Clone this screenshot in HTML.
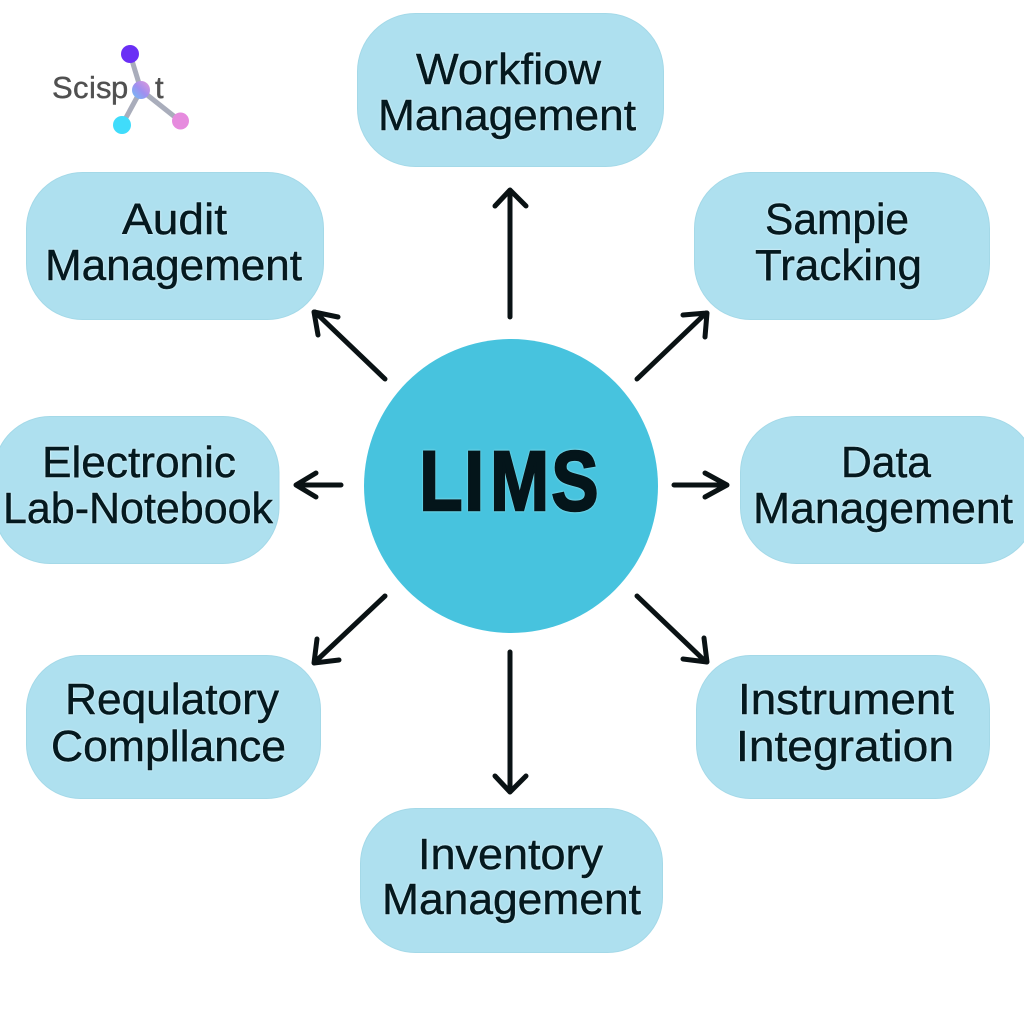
<!DOCTYPE html>
<html lang="en">
<head>
<meta charset="utf-8">
<title>LIMS</title>
<style>
html,body{margin:0;padding:0;background:#fff;width:1024px;height:1024px;overflow:hidden}
svg{display:block}
.n{fill:#aee0ef;stroke:#a4d9e8;stroke-width:1}
.t{font-family:"Liberation Sans",sans-serif;font-size:44px;fill:#04191f;stroke:#04191f;stroke-width:.45px;stroke-linejoin:round;filter:drop-shadow(0 0 1px #f2fcfe)}
.a{fill:none;stroke:#0a1214;stroke-width:5;stroke-linecap:round;stroke-linejoin:round}
</style>
</head>
<body>
<svg width="1024" height="1024" viewBox="0 0 1024 1024" xmlns="http://www.w3.org/2000/svg">
<defs>
<linearGradient id="g" x1="0" y1="1" x2="1" y2="0">
<stop offset="0" stop-color="#6fc0f5"/>
<stop offset="0.5" stop-color="#a08ff0"/>
<stop offset="1" stop-color="#e49bd8"/>
</linearGradient>
</defs>
<rect width="1024" height="1024" fill="#fff"/>

<!-- Logo -->
<text x="52 73 89 96 111 132 155" y="98" font-family="'Liberation Sans',sans-serif" font-size="31" fill="#505050" stroke="#505050" stroke-width=".4">Scispot</text>
<g stroke="#a9adbb" stroke-width="5" fill="none">
<line x1="130" y1="54" x2="141" y2="90"/>
<line x1="141" y1="90" x2="122" y2="125"/>
<line x1="141" y1="90" x2="180" y2="121"/>
</g>
<circle cx="130" cy="54" r="9" fill="#6a2ff5"/>
<circle cx="141" cy="90" r="9" fill="url(#g)"/>
<circle cx="122" cy="125" r="9" fill="#40dcfb"/>
<circle cx="180.500" cy="121" r="8.500" fill="#e68bde"/>

<!-- Nodes -->
<rect class="n" x="357.500" y="13.500" width="306" height="153" rx="58"/>
<rect class="n" x="694.500" y="172.500" width="295" height="147" rx="56"/>
<rect class="n" x="26.500" y="172.500" width="297" height="147" rx="56"/>
<rect class="n" x="-6" y="416.500" width="285" height="147" rx="56"/>
<rect class="n" x="740.500" y="416.500" width="295" height="147" rx="56"/>
<rect class="n" x="26.500" y="655.500" width="294" height="143" rx="54"/>
<rect class="n" x="696.500" y="655.500" width="293" height="143" rx="54"/>
<rect class="n" x="360.500" y="808.500" width="302" height="144" rx="55"/>

<!-- Centre -->
<circle cx="511" cy="486" r="147" fill="#47c3de"/>
<text transform="translate(0,510) scale(.84,1)" x="499.200 552.800 583.700 656.400" y="0" font-family="'Liberation Sans',sans-serif" font-weight="700" font-size="84" fill="#04151a" stroke="#04151a" stroke-width="2.5" style="filter:drop-shadow(0 0 1px #a8eef6)">LIMS</text>

<!-- Labels -->
<text class="t" x="416" y="84" textLength="185" lengthAdjust="spacingAndGlyphs">Workfiow</text>
<text class="t" x="378" y="130" textLength="258" lengthAdjust="spacingAndGlyphs">Management</text>
<text class="t" x="122" y="234" textLength="105" lengthAdjust="spacingAndGlyphs">Audit</text>
<text class="t" x="45" y="280" textLength="257" lengthAdjust="spacingAndGlyphs">Management</text>
<text class="t" x="765" y="234" textLength="144" lengthAdjust="spacingAndGlyphs">Sampie</text>
<text class="t" x="755" y="280" textLength="167" lengthAdjust="spacingAndGlyphs">Tracking</text>
<text class="t" x="42" y="477" textLength="194" lengthAdjust="spacingAndGlyphs">Electronic</text>
<text class="t" x="3" y="523" textLength="270" lengthAdjust="spacingAndGlyphs">Lab-Notebook</text>
<text class="t" x="841" y="477" textLength="90" lengthAdjust="spacingAndGlyphs">Data</text>
<text class="t" x="753" y="523" textLength="260" lengthAdjust="spacingAndGlyphs">Management</text>
<text class="t" x="65" y="714" textLength="214" lengthAdjust="spacingAndGlyphs">Requlatory</text>
<text class="t" x="51" y="761" textLength="235" lengthAdjust="spacingAndGlyphs">Compllance</text>
<text class="t" x="738" y="714" textLength="216" lengthAdjust="spacingAndGlyphs">Instrument</text>
<text class="t" x="736" y="761" textLength="218" lengthAdjust="spacingAndGlyphs">Integration</text>
<text class="t" x="418" y="869" textLength="185" lengthAdjust="spacingAndGlyphs">Inventory</text>
<text class="t" x="382" y="914" textLength="259" lengthAdjust="spacingAndGlyphs">Management</text>

<!-- Arrows -->
<path class="a" d="M510 317V192M495 206L510 190L526 206"/>
<path class="a" d="M510 652V791M495 776L510 792L526 776"/>
<path class="a" d="M674 485H727M705 473L727 485L705 497"/>
<path class="a" d="M341 485H297M316 473L296 485L316 497"/>
<path class="a" d="M385 379L315 312M318 335L314 312L338 317"/>
<path class="a" d="M637 379L706 313M683 315L707 313L705 337"/>
<path class="a" d="M385 596L315 662M339 660L314 663L317 639"/>
<path class="a" d="M637 596L706 662M683 659L707 662L704 638"/>
</svg>
</body>
</html>
